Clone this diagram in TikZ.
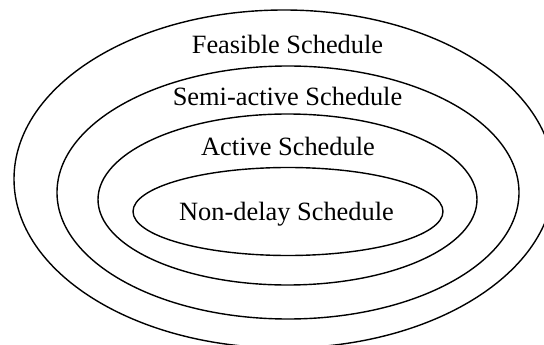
\documentclass[tikz,border=0pt]{standalone}
\usepackage{fontspec}
\setmainfont{Liberation Serif}
\begin{document}
\begin{tikzpicture}[x=1pt,y=-1pt,
  ring/.style={draw=black,line width=1.4pt},
  lbl/.style={anchor=base,inner sep=0pt,font=\fontsize{26.4}{30}\selectfont}]
\useasboundingbox (0,0) rectangle (544,345);
\begin{scope}
\clip (0,0) rectangle (544,345);
\draw[ring] (284,179) ellipse [x radius=270, y radius=169];
\draw[ring] (288,192.5) ellipse [x radius=231, y radius=126.5];
\draw[ring] (287.5,199.5) ellipse [x radius=189.5, y radius=85.5];
\draw[ring] (288,211.5) ellipse [x radius=155, y radius=44];
\end{scope}
\node[lbl] (feas) at (287.5,54) {Feasible Schedule};
\node[lbl] (semi) at (287.5,106) {Semi-active Schedule};
\node[lbl] (act) at (288,155) {Active Schedule};
\node[lbl] (nond) at (286.5,220.5) {Non-delay Schedule};
\end{tikzpicture}
\end{document}
